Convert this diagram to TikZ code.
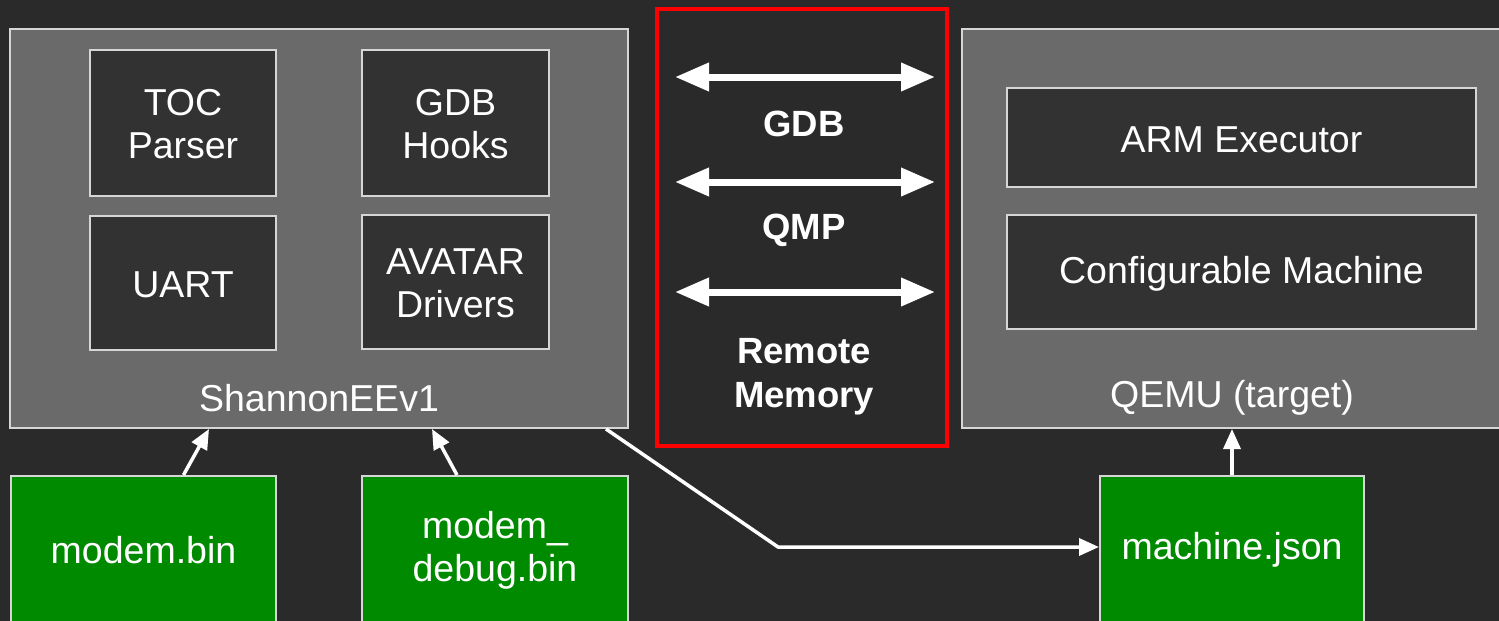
\documentclass[tikz,border=0pt]{standalone}
\usepackage{fontspec}
\setmainfont{Liberation Sans}
\usetikzlibrary{arrows.meta}
\definecolor{bg}{HTML}{2A2A2A}
\definecolor{panelgray}{HTML}{6A6A6A}
\definecolor{boxgray}{HTML}{323232}
\definecolor{edge}{HTML}{D6D6D6}
\definecolor{filegreen}{HTML}{008A00}
\definecolor{protored}{HTML}{FF0000}
\begin{document}
\begin{tikzpicture}[x=1pt,y=-1pt,
  panel/.style={draw=edge, line width=2pt, fill=panelgray, inner sep=0pt},
  inbox/.style={draw=edge, line width=2pt, fill=boxgray, text=white, align=center,
    font=\fontsize{37.5}{43}\selectfont, inner sep=0pt},
  filebox/.style={draw=edge, line width=2pt, fill=filegreen, text=white, align=center,
    font=\fontsize{37.5}{43}\selectfont, inner sep=0pt},
  lbl/.style={text=white, font=\fontsize{37.5}{43}\selectfont, inner sep=0pt},
  protolbl/.style={text=white, align=center, font=\bfseries\fontsize{36.5}{44}\selectfont, inner sep=0pt},
  arr/.style={draw=white, line width=3.5pt, -{Triangle[length=20pt,width=17pt]}},
  dbl/.style={draw=white, line width=7pt,
    {Triangle[length=34pt,width=27pt]}-{Triangle[length=34pt,width=27pt]}}
]
\fill[bg] (0,0) rectangle (1499,621);
\useasboundingbox (0,0) rectangle (1499,621);
\clip (0,0) rectangle (1499,621);

% ShannonEEv1 panel
\node[panel, minimum width=618pt, minimum height=399pt] (shannon) at (319,228.5) {};
\node[inbox, minimum width=186pt, minimum height=146pt] (toc) at (183,123) {};
\node[lbl, align=center] (toct) at (183,124.5) {TOC\\Parser};
\node[inbox, minimum width=187pt, minimum height=146pt] (gdbh) at (455.5,123) {};
\node[lbl, align=center] (gdbht) at (455.5,124.5) {GDB\\Hooks};
\node[inbox, minimum width=186pt, minimum height=134pt] (uart) at (183,283) {};
\node[lbl] (uartt) at (183,285) {UART};
\node[inbox, minimum width=187pt, minimum height=134pt] (avatar) at (455.5,282) {};
\node[lbl, align=center] (avatart) at (455.5,283.5) {AVATAR\\Drivers};
\node[lbl] (shannonlbl) at (319,398) {ShannonEEv1};

% protocol box
\node[draw=protored, line width=4pt, fill=bg, minimum width=290pt, minimum height=437pt, inner sep=0pt] (proto) at (802,227.5) {};
\coordinate (a1l) at (675,77);  \coordinate (a1r) at (935,77);
\coordinate (a2l) at (675,182); \coordinate (a2r) at (935,182);
\coordinate (a3l) at (675,292); \coordinate (a3r) at (935,292);
\draw[dbl] (a1l) -- (a1r);
\draw[dbl] (a2l) -- (a2r);
\draw[dbl] (a3l) -- (a3r);
\node[protolbl] (gdb) at (804,124) {GDB};
\node[protolbl] (qmp) at (804,230) {QMP};
\node[protolbl] (remmem) at (804,377) {Remote\\Memory};

% QEMU panel
\node[panel, minimum width=540pt, minimum height=399pt] (qemu) at (1232,228.5) {};
\node[inbox, minimum width=469pt, minimum height=99pt] (arm) at (1241.5,137.5) {};
\node[lbl] (armt) at (1241.5,139.5) {ARM Executor};
\node[inbox, minimum width=469pt, minimum height=114pt] (cfg) at (1241.5,272) {};
\node[lbl] (cfgt) at (1241.5,274) {Configurable Machine};
\node[lbl] (qemulbl) at (1232,398) {QEMU (target)};

% files
\node[filebox, minimum width=265pt, minimum height=146pt] (modem) at (143.5,549) {};
\node[lbl] (modemt) at (143.5,550) {modem.bin};
\node[filebox, minimum width=266pt, minimum height=146pt] (debug) at (495,549) {};
\node[lbl, align=center] (debugt) at (495,550) {modem\_\\debug.bin};
\node[filebox, minimum width=264pt, minimum height=146pt] (mjson) at (1232,549) {};
\node[lbl] (mjsont) at (1232,550) {machine.json};

% connectors
\draw[arr] ([xshift=40pt]modem.north) -- ([xshift=-110pt]shannon.south);
\draw[arr] ([xshift=-38pt]debug.north) -- ([xshift=113pt]shannon.south);
\draw[arr] (mjson.north) -- (qemu.south);
\coordinate (bend) at (778,547);
\draw[arr, line join=round] ([xshift=-23pt]shannon.south east) -- (bend) -- (bend -| mjson.west);
\end{tikzpicture}
\end{document}
